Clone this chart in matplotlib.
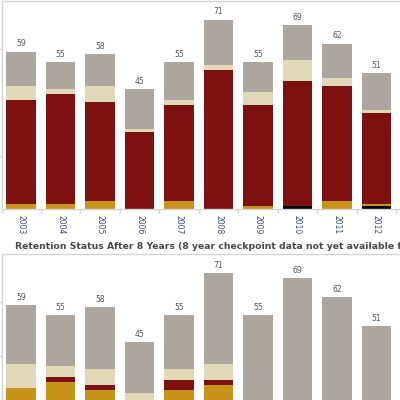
import matplotlib
matplotlib.use('Agg')
import matplotlib.pyplot as plt
import numpy as np

years = ['2003', '2004', '2005', '2006', '2007', '2008', '2009', '2010', '2011', '2012']
totals = [59, 55, 58, 45, 55, 71, 55, 69, 62, 51]

# top chart segments (bottom -> top)
top_black = [0, 0, 0, 0, 0, 0, 0, 1, 0, 1]
top_gold = [2, 2, 3, 0, 3, 0, 1, 0, 3, 1]
top_red = [39, 41, 37, 29, 36, 52, 38, 47, 43, 34]
top_beige = [5, 2, 6, 1, 2, 2, 5, 8, 3, 1]
top_gray = [13, 10, 12, 15, 14, 17, 11, 13, 13, 14]

# bottom chart: retention after 8 years
bot_gold = [28, 30, 27, 18, 27, 29, 0, 0, 0, 0]
bot_red = [0, 2, 2, 0, 4, 2, 0, 0, 0, 0]
bot_beige = [9, 4, 6, 8, 4, 6, 0, 0, 0, 0]
bot_gray = [22, 19, 23, 19, 20, 34, 55, 69, 62, 51]

c_black = '#000000'
c_gold = '#C8931A'
c_red = '#7D110F'
c_beige = '#E0D8B8'
c_gray = '#ADA69F'
frame = '#D4D4D4'

fig = plt.figure(figsize=(4, 4), dpi=100)
x = np.arange(len(years))
W = 400.0


def stacked(ax, series):
    bottom = np.zeros(len(years))
    for vals, col in series:
        vals = np.array(vals, dtype=float)
        ax.bar(x, vals, width=0.75, bottom=bottom, color=col, linewidth=0)
        bottom += vals
    for xi, t in zip(x, totals):
        ax.text(xi, t + 1.2, str(t), ha='center', va='bottom', fontsize=5.5, color='#555555')


def style(ax, yticks):
    ax.set_xlim(-0.5, 9.6)
    ax.set_ylim(0, 78)
    ax.spines['right'].set_visible(False)
    for s in ['top', 'left', 'bottom']:
        ax.spines[s].set_color(frame)
        ax.spines[s].set_linewidth(1)
    ax.set_yticks(yticks)
    ax.set_yticklabels([])
    ax.tick_params(axis='y', length=2, color=frame, width=1)


# top axes: y pixels 1..209
ax1 = fig.add_axes([1.5 / W, 1 - 209 / W, 1 - 1.5 / W, 208 / W])
stacked(ax1, [(top_black, c_black), (top_gold, c_gold), (top_red, c_red),
              (top_beige, c_beige), (top_gray, c_gray)])
style(ax1, [20, 60])
ax1.set_xticks(x)
ax1.set_xticklabels(years, rotation=-90, fontsize=5.5, color='#3C4A66', va='top')
ax1.tick_params(axis='x', which='major', length=0, pad=4)
ax1.set_xticks(np.arange(-0.5, 10, 1), minor=True)
ax1.tick_params(axis='x', which='minor', length=3, color=frame, width=1)

fig.text(15 / W, 1 - 249 / W,
         'Retention Status After 8 Years (8 year checkpoint data not yet available for later cohorts)',
         fontsize=6.7, fontweight='bold', color='#4A4A4A', va='baseline', ha='left')

# bottom axes: y pixels 254..462 (bottom cut off by figure edge)
ax2 = fig.add_axes([1.5 / W, 1 - 462.5 / W, 1 - 1.5 / W, 208.5 / W])
stacked(ax2, [(bot_gold, c_gold), (bot_red, c_red), (bot_beige, c_beige), (bot_gray, c_gray)])
style(ax2, [20, 40, 60])
ax2.set_xticks([])

plt.savefig('out.png', dpi=100)
